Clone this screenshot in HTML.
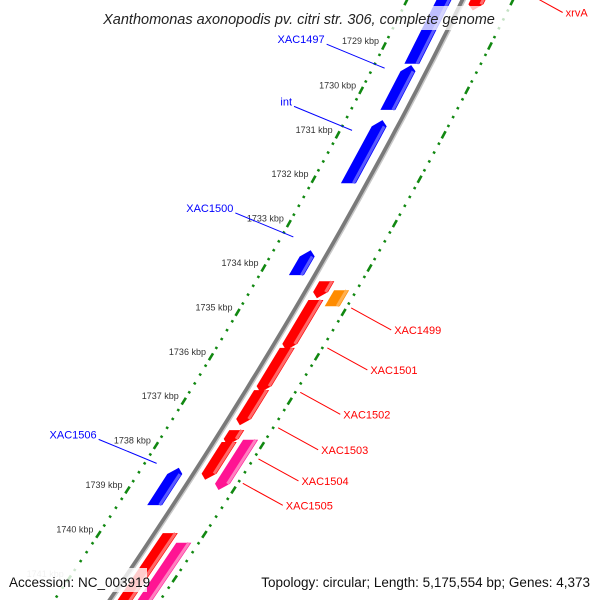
<!DOCTYPE html>
<html><head><meta charset="utf-8"><style>
html,body{margin:0;padding:0;background:#fff}
svg{display:block;font-family:"Liberation Sans",sans-serif}
</style></head><body>
<svg id="map" width="600" height="600" viewBox="0 0 600 600" xmlns="http://www.w3.org/2000/svg">
<g id="tracks"></g>
<g id="genes"></g>
<g id="labels"></g>
<rect x="80" y="6" width="440" height="24" fill="#fff" opacity="0.75"/>
<text x="299" y="24" text-anchor="middle" font-size="14.5" font-style="italic" fill="#222">Xanthomonas axonopodis pv. citri str. 306, complete genome</text>
<rect x="5" y="568" width="142" height="24" fill="#fff" opacity="0.8"/>
<text x="9" y="587" font-size="13.5" fill="#111">Accession: NC_003919</text>
<text x="590" y="587" text-anchor="end" font-size="13.5" fill="#111">Topology: circular; Length: 5,175,554 bp; Genes: 4,373</text>
</svg>
<script>
const tickKbp=[1728,1729,1730,1731,1732,1733,1734,1735,1736,1737,1738,1739,1740,1741,1742];
const tickLabels=["1728 kbp","1729 kbp","1730 kbp","1731 kbp","1732 kbp","1733 kbp","1734 kbp","1735 kbp","1736 kbp","1737 kbp","1738 kbp","1739 kbp","1740 kbp","1741 kbp","1742 kbp"];
const geneNames=["XAC1497","XAC1498","int","XAC1500","XAC1506","xrvA","XAC1499a","XAC1499","XAC1501","XAC1501b","XAC1502","XAC1503","XAC1504","XAC1505","XAC1507","XAC1508"];
const geneStart=[1727.6,1729.43,1730.67,1733.6,1738.5,1727.5,1734.3,1734.5,1734.72,1735.8,1736.75,1737.65,1737.92,1737.87,1739.97,1740.19];
const geneEnd=[1729.4,1730.44,1732.09,1734.16,1739.34,1728.2,1734.68,1734.86,1735.85,1736.8,1737.54,1737.99,1738.77,1739.0,1741.9,1741.9];
const geneStrand=[-1,-1,-1,-1,-1,1,1,0,1,1,1,1,1,1,1,1];
const geneLane=[-1,-1,-1,-1,-1,1,1,2,1,1,1,1,1,2,1,2];
const geneColor=["#0000ff","#0000ff","#0000ff","#0000ff","#0000ff","#ff0000","#ff0000","#ff8c00","#ff0000","#ff0000","#ff0000","#ff0000","#ff0000","#ff1493","#ff0000","#ff1493"];
const labelText=["XAC1497","int","XAC1500","XAC1506","xrvA","XAC1499","XAC1501","XAC1502","XAC1503","XAC1504","XAC1505"];
const labelKbp=[1729.5,1730.9,1733.3,1738.4,1727.75,1734.9,1735.8,1736.8,1737.6,1738.3,1738.85];
const labelSide=[-1,-1,-1,-1,1,1,1,1,1,1,1];

const NS="http://www.w3.org/2000/svg";
function Y(k){return 46+(k-1729)*44.4;}
function X(y){return 463-0.493*y-0.000158*y*y;}
function P(k,h){const y=Y(k);return [X(y)+h,y];}
function dir(y){const dx=-0.493-0.000316*y;const L=Math.hypot(dx,1);return [dx/L,1/L];}
function mk(tag,attrs,parent){const e=document.createElementNS(NS,tag);for(const a in attrs)e.setAttribute(a,attrs[a]);parent.appendChild(e);return e;}
const tracks=document.getElementById('tracks'),genes=document.getElementById('genes'),labels=document.getElementById('labels');

// backbone
let bp="";for(let y=-10;y<=610;y+=10){bp+=(y==-10?"M":"L")+X(y).toFixed(1)+","+y+" ";}
const bb=mk('path',{d:bp,fill:'none',stroke:'#7a7a7a','stroke-width':5},tracks);

const bb2=mk('path',{d:bp,fill:'none',stroke:'#c8c8c8','stroke-width':1.5,transform:'translate(2,0.5)'},tracks);


// dotted scale tracks
const trackH=[-56,50];
for(const h of trackH){
  for(let k=tickKbp[0];k<=tickKbp[tickKbp.length-1]+0.01;k+=0.2){
    const kk=Math.round(k*5)/5;const major=Math.abs(kk-Math.round(kk))<0.01;
    const [x,y]=P(kk,h);if(y<-10||y>610)continue;
    const [ux,uy]=dir(y);const len=major?4:1.2;
    const t=mk('line',{x1:x-ux*len,y1:y-uy*len,x2:x+ux*len,y2:y+uy*len,stroke:'#118811','stroke-width':2.6},tracks);
    
    
  }
}
tickKbp.forEach((k,i)=>{
  const [x,y]=P(k,-56);if(y<10||y>600)return;
  const t=mk('text',{x:x-5,y:y-2,'text-anchor':'end','font-size':9,fill:k>=1741?'#bbb':'#333'},labels);
  t.textContent=tickLabels[i];
  
  
});

// genes
function shade(c){return c=="#0000ff"?"#5a5aff":c=="#ff0000"?"#ff6a6a":c=="#ff1493"?"#ff80c0":"#ffb050";}
geneNames.forEach((n,i)=>{
  const hc=geneLane[i]==-1?-19:geneLane[i]==1?15:35;const hw=7.5;
  let k1=geneStart[i],k2=geneEnd[i];
  const pts=[];const s=geneStrand[i];const ak=0.14;
  const a=P(k1,hc-hw),b=P(k1,hc+hw),c=P(k2,hc+hw),d=P(k2,hc-hw);
  if(s==1){const cc=P(k2-ak,hc+hw),dd=P(k2-ak,hc-hw),tip=P(k2,hc);pts.push(a,b,cc,tip,dd);}
  else if(s==-1){const aa=P(k1+ak,hc-hw),bb=P(k1+ak,hc+hw),tip=P(k1,hc);pts.push(tip,bb,c,d,aa);}
  else pts.push(a,b,c,d);
  const g=mk('polygon',{points:pts.map(p=>p[0].toFixed(1)+","+p[1].toFixed(1)).join(" "),fill:geneColor[i]},genes);
  
  
  const e1=P(k1+(s==-1?ak:0),hc+hw-2.5),e2=P(k2-(s==1?ak:0),hc+hw-2.5);
  const st=mk('line',{x1:e1[0],y1:e1[1],x2:e2[0],y2:e2[1],stroke:shade(geneColor[i]),'stroke-width':3},genes);
  
  
});

// labels
labelText.forEach((t,i)=>{
  const side=labelSide[i];const k=labelKbp[i];
  const [x,y]=P(k,side*(side<0?44:55));
  const col=side<0?'#0000ff':'#ff0000';
  const x2=x+side*40*(side<0?-1:1)*(side<0?1:1);
  const ex=side<0?x-58:x+40,ey=y+(side<0?-24:22);
  const l=mk('line',{x1:x,y1:y,x2:ex,y2:ey,stroke:col,'stroke-width':1},labels);
  
  
  const tx=mk('text',{x:side<0?ex-2:ex+3,y:ey+(side<0?-1:4),'text-anchor':side<0?'end':'start','font-size':11,fill:col},labels);
  tx.textContent=t;
  
  
});
</script>
</body></html>
